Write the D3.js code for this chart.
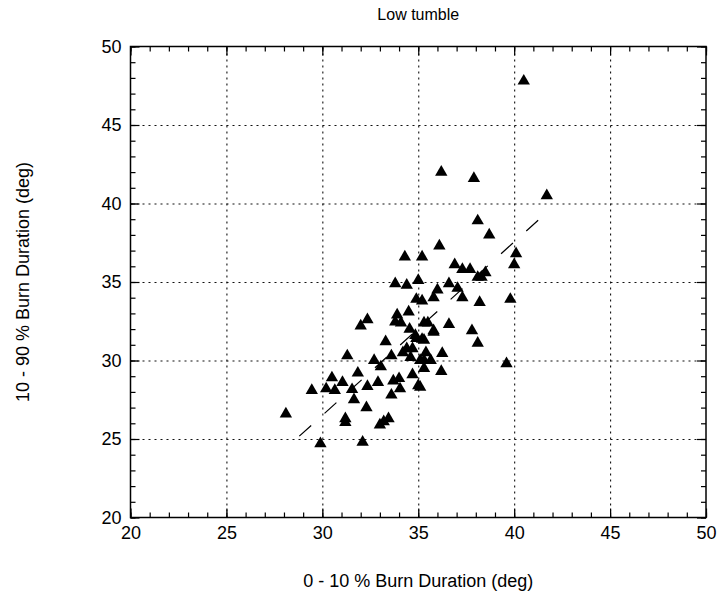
<!DOCTYPE html>
<html>
<head>
<meta charset="utf-8">
<script src="https://cdn.jsdelivr.net/npm/d3@7"></script>
<style>
  body { margin: 0; background: #fff; }
  text { font-family: "Liberation Sans", Arial, Helvetica, sans-serif; fill: #000; }
</style>
</head>
<body>
<div id="chart"></div>
<script>
// ---- data ----
var title = 'Low tumble';
var xTitle = '0 - 10 % Burn Duration (deg)';
var yTitle = '10 - 90 % Burn Duration (deg)';

var xTicks = [20, 25, 30, 35, 40, 45, 50];
var yTicks = [20, 25, 30, 35, 40, 45, 50];

// 0-10 % burn duration of each cycle
var burn0010 = [
  40.5, 36.2, 37.9, 41.7, 38.1, 38.7, 36.1, 34.3, 35.2, 40.1,
  40.0, 36.9, 37.3, 37.7, 38.1, 38.3, 38.5, 36.6, 36.0, 37.05,
  35.8, 37.3, 35.2, 38.2, 39.8, 35.5, 35.3, 36.6, 35.8, 37.8,
  35.3, 38.1, 35.4, 36.25, 35.3, 35.65, 39.6, 35.3, 36.2, 35.1,
  33.8, 34.4, 35.0, 34.9, 34.5, 33.9, 34.1, 33.8, 34.55, 33.3,
  34.9, 34.4, 34.7, 34.2, 33.6, 32.7, 34.6, 35.1, 33.05, 34.7,
  32.9, 33.7, 34.0, 34.05, 35.0, 33.6, 31.3, 30.5, 31.05, 31.85,
  29.45, 30.2, 30.65, 31.55, 32.35, 31.65, 32.3, 31.2, 31.2, 33.0,
  33.2, 33.45, 28.1, 29.9, 32.1, 32.35, 32.0, 35.8, 34.85, 35.2
];
// 10-90 % burn duration of each cycle
var burn1090 = [
  47.8, 42.0, 41.6, 40.5, 38.9, 38.0, 37.3, 36.6, 36.6, 36.8,
  36.1, 36.1, 35.8, 35.8, 35.3, 35.3, 35.6, 34.9, 34.5, 34.6,
  34.0, 34.0, 33.8, 33.7, 33.9, 32.4, 32.4, 32.3, 31.9, 31.9,
  31.3, 31.1, 30.5, 30.45, 30.0, 30.0, 29.8, 29.5, 29.3, 28.3,
  34.9, 34.8, 35.1, 33.9, 33.1, 32.9, 32.4, 32.45, 32.0, 31.2,
  31.4, 30.75, 30.75, 30.5, 30.3, 30.0, 30.2, 30.0, 29.6, 29.1,
  28.6, 28.7, 28.85, 28.2, 28.4, 27.8, 30.3, 28.9, 28.6, 29.2,
  28.1, 28.2, 28.1, 28.15, 28.35, 27.5, 27.0, 26.3, 26.05, 25.9,
  26.1, 26.3, 26.6, 24.7, 24.8, 32.6, 32.2, 31.8, 31.6, 31.35
];

// fitted trend line (end points as read)
var fitX = [28.8, 41.4];
var fitY = [25.18, 39.1];

function drawChart() {
  var width = 721, height = 601;
  var plotLeft = 130.5, plotRight = 706, plotTop = 46.5, plotBottom = 517.5;

  var x = d3.scaleLinear().domain([20, 50]).range([plotLeft, plotRight]);
  var y = d3.scaleLinear().domain([20, 50]).range([plotBottom, plotTop]);

  var svg = d3.select('#chart').append('svg')
    .attr('width', width)
    .attr('height', height);

  // grid
  var grid = svg.append('g').attr('class', 'grid');
  grid.append('g')
    .attr('transform', 'translate(0,' + plotBottom + ')')
    .call(d3.axisBottom(x).tickValues(xTicks.slice(1, -1)).tickSize(-(plotBottom - plotTop)).tickFormat(''));
  grid.append('g')
    .attr('transform', 'translate(' + plotLeft + ',0)')
    .call(d3.axisLeft(y).tickValues(yTicks.slice(1, -1)).tickSize(-(plotRight - plotLeft)).tickFormat(''));
  grid.selectAll('.domain').remove();
  grid.selectAll('line')
    .attr('stroke', '#111')
    .attr('stroke-width', 1.1)
    .attr('stroke-dasharray', '2,4');

  // minor + major ticks on all four sides, pointing inward
  var minor = d3.range(20, 51);
  function ticks(axis, tr, vals, size, labels) {
    var g = svg.append('g').attr('transform', tr)
      .call(axis.tickValues(vals).tickSize(-size).tickPadding(9)
        .tickFormat(labels ? d3.format('d') : ''));
    g.select('.domain').remove();
    g.selectAll('line').attr('stroke', '#000').attr('stroke-width', 1.2);
    g.selectAll('text').style('font-size', '18px').attr('fill', '#000');
    return g;
  }
  ticks(d3.axisBottom(x), 'translate(0,' + plotBottom + ')', minor, 5, false);
  ticks(d3.axisTop(x), 'translate(0,' + plotTop + ')', minor, 5, false);
  ticks(d3.axisLeft(y), 'translate(' + plotLeft + ',0)', minor, 5, false);
  ticks(d3.axisRight(y), 'translate(' + plotRight + ',0)', minor, 5, false);
  ticks(d3.axisBottom(x), 'translate(0,' + plotBottom + ')', xTicks, 9, true);
  ticks(d3.axisTop(x), 'translate(0,' + plotTop + ')', xTicks, 9, false);
  ticks(d3.axisLeft(y), 'translate(' + plotLeft + ',0)', yTicks, 9, true);
  ticks(d3.axisRight(y), 'translate(' + plotRight + ',0)', yTicks, 9, false);

  // frame
  svg.append('rect')
    .attr('x', plotLeft).attr('y', plotTop)
    .attr('width', plotRight - plotLeft).attr('height', plotBottom - plotTop)
    .attr('fill', 'none')
    .attr('stroke', '#000')
    .attr('stroke-width', 1.5);

  // trend line
  var line = d3.line().x(function (d) { return x(d[0]); }).y(function (d) { return y(d[1]); });
  svg.append('path')
    .datum(d3.zip(fitX, fitY))
    .attr('d', line)
    .attr('fill', 'none')
    .attr('stroke', '#000')
    .attr('stroke-width', 1.2)
    .attr('stroke-dasharray', '16,18');

  // points
  var tri = d3.symbol().type(d3.symbolTriangle).size(66);
  svg.append('g').selectAll('path')
    .data(d3.zip(burn0010, burn1090))
    .enter().append('path')
    .attr('d', tri)
    .attr('transform', function (d) { return 'translate(' + x(d[0]) + ',' + y(d[1]) + ')'; })
    .attr('fill', '#000');

  // titles
  svg.append('text')
    .attr('x', (plotLeft + plotRight) / 2).attr('y', 20)
    .attr('text-anchor', 'middle')
    .style('font-size', '16px')
    .text(title);

  svg.append('text')
    .attr('x', (plotLeft + plotRight) / 2).attr('y', 587)
    .attr('text-anchor', 'middle')
    .style('font-size', '18px')
    .text(xTitle);

  svg.append('text')
    .attr('transform', 'translate(29,' + (plotTop + plotBottom) / 2 + ') rotate(-90)')
    .attr('text-anchor', 'middle')
    .style('font-size', '18px')
    .text(yTitle);
}

drawChart();
</script>
</body>
</html>
